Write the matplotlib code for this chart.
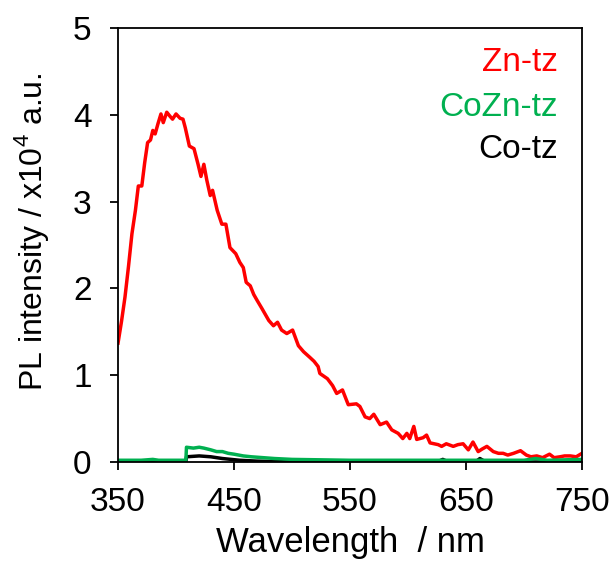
from matplotlib import pyplot as plt
import numpy as np

# Zn-tz emission (x10^4 a.u.)
wl_zn = [350, 353, 356, 359, 362, 365, 367.5, 370.5, 373, 375.5, 378, 380, 382,
         384.5, 387, 389, 392, 395, 397, 400, 403.5, 406, 408, 411.5, 415.5, 419,
         421.5, 424, 426.5, 429.5, 431.5, 435.5, 439.5, 443, 446.5, 451.5, 455,
         458, 460.5, 464, 467, 470, 474, 480, 484, 487.5, 491, 495.5, 500.5,
         505.5, 510, 515, 519, 522.5, 524, 530.5, 535, 538.5, 543.5, 548.5,
         555.5, 558.5, 563, 567, 570.5, 576, 581.5, 586, 591.5, 595.5, 599,
         601.5, 605, 607.5, 613, 616, 619, 626, 629, 633, 639, 643, 647.5, 652,
         656, 660.5, 664, 668, 673.5, 678, 682, 686, 691, 697, 702, 706, 711,
         716, 722, 726, 731, 735, 740, 745, 750]
pl_zn = [1.37, 1.62, 1.90, 2.25, 2.63, 2.90, 3.18, 3.18, 3.45, 3.68, 3.71, 3.82,
         3.78, 3.90, 4.01, 3.91, 4.03, 3.98, 3.95, 4.01, 3.96, 3.95, 3.85, 3.64,
         3.61, 3.43, 3.29, 3.43, 3.25, 3.07, 3.13, 2.90, 2.74, 2.74, 2.47, 2.40,
         2.30, 2.24, 2.07, 2.03, 1.93, 1.86, 1.77, 1.63, 1.57, 1.61, 1.52, 1.48,
         1.52, 1.34, 1.27, 1.21, 1.16, 1.10, 1.02, 0.96, 0.88, 0.79, 0.83, 0.66,
         0.67, 0.64, 0.52, 0.50, 0.55, 0.43, 0.46, 0.37, 0.33, 0.27, 0.33, 0.27,
         0.41, 0.26, 0.28, 0.31, 0.22, 0.20, 0.18, 0.21, 0.18, 0.20, 0.21, 0.14,
         0.23, 0.12, 0.15, 0.18, 0.12, 0.10, 0.10, 0.08, 0.10, 0.13, 0.08, 0.06,
         0.07, 0.05, 0.09, 0.05, 0.06, 0.07, 0.07, 0.06, 0.10]

# CoZn-tz
wl_cozn = [350, 370, 380, 385, 400, 408.5, 409, 415, 420, 424, 430, 435, 440,
           445, 450, 458, 465, 475, 485, 500, 550, 600, 650, 700, 710, 720, 750]
pl_cozn = [0.02, 0.02, 0.03, 0.02, 0.02, 0.02, 0.17, 0.16, 0.17, 0.16, 0.14,
           0.12, 0.12, 0.10, 0.09, 0.07, 0.06, 0.05, 0.04, 0.03, 0.02, 0.02,
           0.02, 0.02, 0.04, 0.02, 0.03]

# Co-tz
wl_co = [350, 408.5, 409, 420, 430, 440, 455, 470, 500, 625, 630, 635, 658,
         662, 667, 750]
pl_co = [0.0, 0.0, 0.06, 0.07, 0.06, 0.04, 0.02, 0.01, 0.0, 0.0, 0.03, 0.0,
         0.0, 0.04, 0.0, 0.0]

labels = ["Zn-tz", "CoZn-tz", "Co-tz"]
colors = ["#ff0000", "#00b050", "#000000"]

plt.rcParams["font.family"] = ["Liberation Sans", "DejaVu Sans"]
plt.rcParams["mathtext.fontset"] = "custom"
plt.rcParams["mathtext.rm"] = "Liberation Sans"
plt.rcParams["font.size"] = 24

fig = plt.figure(figsize=(6.16, 5.65), dpi=100)
ax = fig.add_axes([0.1916, 0.1823, 0.7532, 0.7681])

ax.plot(wl_zn, pl_zn, color=colors[0], linewidth=2.5)
ax.plot(wl_co, pl_co, color=colors[2], linewidth=2.5)
ax.plot(wl_cozn, pl_cozn, color=colors[1], linewidth=2.5)

ax.set_xlim(350, 750)
ax.set_ylim(0, 5)
ax.set_xticks(np.arange(350, 751, 100))
ax.set_yticks(np.arange(0, 6, 1))
ax.tick_params(direction="out", length=6, width=1.3, labelsize=24)
ax.tick_params(axis="x", pad=12)
ax.tick_params(axis="y", pad=13)
for sp in ax.spines.values():
    sp.set_linewidth(1.3)

ax.set_xlabel("Wavelength  / nm", fontsize=25, labelpad=6)
ax.set_ylabel(r"PL intensity / x10$^{\mathregular{4}}$ a.u.", fontsize=23,
              labelpad=16)
ax.yaxis.label.set_y(0.53)

# legend drawn as coloured text, no handles
for lab, col, ypos in zip(labels, colors, [0.92, 0.817, 0.72]):
    ax.text(0.948, ypos, lab, color=col, ha="right", va="center",
            transform=ax.transAxes)

fig.savefig("out.png", dpi=100)
